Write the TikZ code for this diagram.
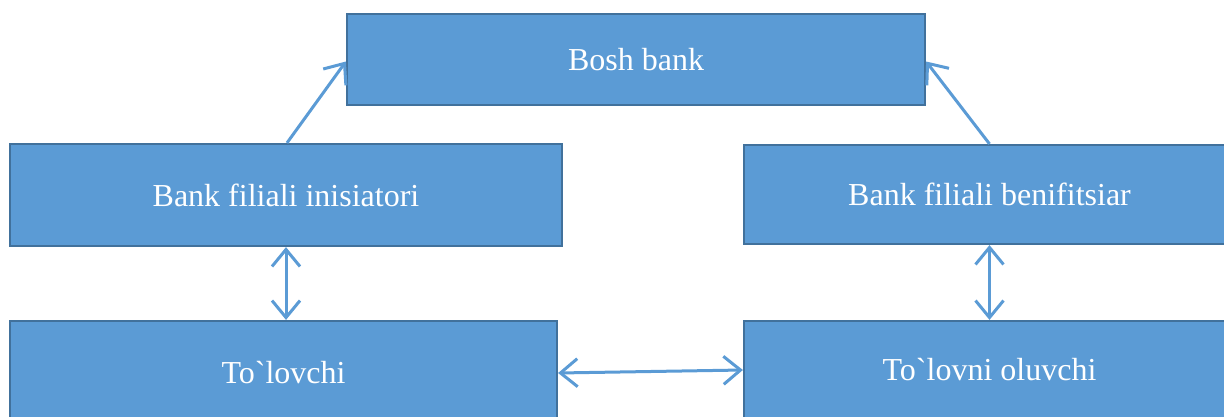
\documentclass[tikz,border=0pt]{standalone}
\usepackage{fontspec}
\setmainfont{Liberation Serif}[Ligatures=TeXOff]
\usetikzlibrary{arrows.meta,calc}
\definecolor{boxfill}{HTML}{5B9BD5}
\definecolor{boxline}{HTML}{41719C}
\definecolor{arrowcol}{HTML}{5B9BD5}
\begin{document}
\begin{tikzpicture}[x=1pt,y=-1pt,
  box/.style={draw=boxline, line width=2.2pt, fill=boxfill, text=white, inner sep=0pt,
    font=\fontsize{32}{38}\selectfont},
  tip/.tip={Straight Barb[length=17pt,width=28pt,line width=3pt]},
  conn/.style={draw=arrowcol, line width=3pt, -tip},
  conn2/.style={draw=arrowcol, line width=3pt, tip-tip}]
\useasboundingbox (0,0) rectangle (1224,416);
\clip (0,0) rectangle (1224,416);
\node[box, minimum width=578pt, minimum height=91pt] (bosh) at (636,59.5) {\raisebox{-2pt}{Bosh bank}};
\node[box, minimum width=552pt, minimum height=102pt] (inis) at (286,195) {\raisebox{-2pt}{Bank filiali inisiatori}};
\node[box, minimum width=491pt, minimum height=99pt] (benif) at (989.5,194.5) {\raisebox{-2pt}{Bank filiali benifitsiar}};
\node[box, minimum width=547pt, minimum height=104pt] (tolov) at (283.5,373) {To`lovchi};
\node[box, minimum width=491pt, minimum height=98pt] (oluv) at (989.5,370) {To`lovni oluvchi};
\draw[conn] ($(inis.north)+(1,0)$) -- ($(bosh.west)+(0,2)$);
\draw[conn] (benif.north) -- ($(bosh.east)+(0,2)$);
\draw[conn2] (inis.south) -- (inis.south |- tolov.north);
\draw[conn2] (benif.south) -- (benif.south |- oluv.north);
\draw[conn2] (tolov.east) -- (oluv.west);
\end{tikzpicture}
\end{document}
